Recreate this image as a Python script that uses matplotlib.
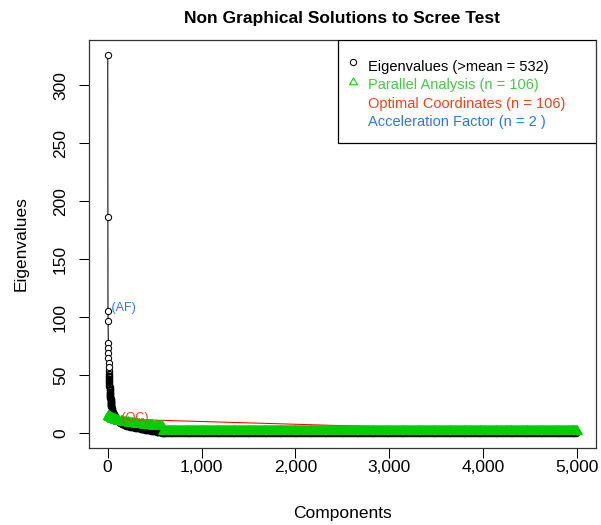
import matplotlib
matplotlib.use("Agg")
import matplotlib.pyplot as plt
import numpy as np
from matplotlib.patches import Rectangle
from matplotlib.ticker import FuncFormatter

plt.rcParams['font.family'] = ['Liberation Sans', 'DejaVu Sans']

# eigenvalues (component, value)
eig_head = [326, 186, 105, 96.5, 78, 73.5, 69, 64.5, 60.5, 57, 53, 51]
eig_mid_comp = list(range(13, 41)) + list(range(45, 101, 5)) + [106] + list(range(110, 601, 10))
eig_mid = [49.5, 48, 46.5, 45, 43.5, 42, 40.5, 39.2, 38, 36.8, 35.6, 34.5, 33.5, 32.5,
           31.6, 30.7, 29.9, 29.1, 28.4, 27.7, 27.0, 26.4, 25.8, 25.2, 24.6, 24.1, 23.6, 23.1,
           21.2, 19.6, 18.2, 17.0, 15.9, 15.0, 14.2, 13.4, 12.7, 12.1, 11.5, 11.0,
           10.6,
           10.3, 9.6, 8.9, 8.4, 7.9, 7.5, 7.1, 6.8, 6.5, 6.25, 6.0, 5.8, 5.6, 5.4, 5.2,
           5.0, 4.85, 4.7, 4.55, 4.4, 4.25, 4.1, 3.95, 3.8, 3.65, 3.5, 3.35, 3.2, 3.05,
           2.9, 2.75, 2.6, 2.45, 2.3, 2.15, 2.0, 1.85, 1.7, 1.55, 1.45, 1.3, 1.18, 1.05,
           0.9, 0.75, 0.6, 0.45, 0.3, 0.15, 0.05]
n_components = 5000
eig_tail_value = 0.0

# parallel analysis
pa_comp = [1, 5, 10, 15, 20, 25, 30, 35, 42, 50, 56, 62, 68, 75, 82, 90, 98, 106, 115,
           125, 137, 150, 162, 175, 187, 200, 212, 225, 237, 250, 262, 275, 287, 300,
           312, 325, 337, 350, 362, 375, 387, 400, 412, 425, 437, 450, 462, 475, 487,
           500, 512, 525, 537, 550, 562, 575]
pa_vals = [15.0, 14.6, 14.2, 13.9, 13.6, 13.35, 13.1, 12.9, 12.6, 12.35, 12.15, 11.95,
           11.8, 11.6, 11.35, 11.1, 10.85, 10.6, 10.45, 10.3, 10.1, 9.95, 9.8, 9.6, 9.45,
           9.25, 9.1, 8.95, 8.8, 8.65, 8.5, 8.35, 8.2, 8.05, 7.9, 7.8, 7.65, 7.55, 7.4,
           7.3, 7.15, 7.05, 6.95, 6.85, 6.7, 6.6, 6.5, 6.4, 6.3, 6.2, 6.1, 6.0, 5.9,
           5.75, 5.65, 5.55]
pa_tail_value = 1.6

# optimal coordinates line ends
oc_x = [1, 5000]
oc_y = [12.2, 0.3]

n_kaiser, n_pa, n_oc, n_af = 532, 106, 106, 2

green = '#00CD00'
red_txt = '#F2401E'
blue_txt = '#2B78E4'

eig_comp = list(range(1, len(eig_head) + 1)) + eig_mid_comp
eig_vals = eig_head + eig_mid
tail_comp = np.arange(610, n_components + 1, 20)
tail_vals = np.full(len(tail_comp), eig_tail_value)
all_comp = np.concatenate([eig_comp, tail_comp])
all_vals = np.concatenate([eig_vals, tail_vals])

pa_tail_comp = np.arange(590, n_components + 1, 10)
pa_all_comp = np.concatenate([pa_comp, pa_tail_comp])
pa_all_vals = np.concatenate([pa_vals, np.full(len(pa_tail_comp), pa_tail_value)])

tri = [(0, 1), (-0.866, -0.5), (0.866, -0.5), (0, 1)]

fig = plt.figure(figsize=(6.01, 5.25), dpi=100)
ax = fig.add_axes([89 / 601, 1 - 448 / 525, 507 / 601, 408 / 525])

ax.plot(all_comp, all_vals, color='black', lw=0.75, zorder=2)
ax.plot(all_comp[10:], all_vals[10:], ls='none', marker='o', ms=4.5, mfc='none',
        mec='black', mew=0.9, zorder=3)
ax.plot(all_comp[:10], all_vals[:10], ls='none', marker='o', ms=4.5, mfc='white',
        mec='black', mew=0.75, zorder=3)

ax.plot(oc_x, oc_y, color='red', lw=0.75, zorder=4)

ax.plot(pa_all_comp, pa_all_vals, color=green, lw=0.75, marker=tri, ms=9.6,
        mfc=green, mew=0, zorder=5)

# labels for OC and AF
ax.text(n_oc, eig_vals[eig_comp.index(n_oc)], ' (OC)', color=red_txt,
        fontsize=9, ha='left', va='baseline', zorder=6)
ax.text(n_af + 1, eig_vals[n_af], ' (AF)', color=blue_txt, fontsize=9,
        ha='left', va='baseline', zorder=6)

lo, hi = 1, n_components
ax.set_xlim(lo - 0.04 * (hi - lo), hi + 0.04 * (hi - lo))
ylo, yhi = 0, max(eig_head)
ax.set_ylim(ylo - 0.04 * (yhi - ylo), yhi + 0.04 * (yhi - ylo))

ax.set_xticks(range(0, 5001, 1000))
ax.xaxis.set_major_formatter(FuncFormatter(lambda v, p: f'{int(v):,}'))
ax.set_yticks(range(0, 301, 50))
ax.tick_params(axis='both', direction='out', length=7.2, width=0.75, labelsize=12.5,
               top=False, right=False)
ax.tick_params(axis='x', pad=1.5)
ax.tick_params(axis='y', pad=8)
for lab in ax.get_yticklabels():
    lab.set_rotation(90)
    lab.set_va('center')
for s in ax.spines.values():
    s.set_linewidth(0.9)
    s.set_color('#333333')

ax.set_xlabel('Components', fontsize=12.5)
ax.set_ylabel('Eigenvalues', fontsize=12.5)
ax.xaxis.set_label_coords(0.5, -0.143)
ax.yaxis.set_label_coords(-0.119, 0.5)
ax.set_title('Non Graphical Solutions to Scree Test', fontsize=12.5, fontweight='bold', pad=12.5)

# legend box drawn like R's legend("topright")
ax.add_patch(Rectangle((0.491, 0.7475), 0.509, 0.2525, transform=ax.transAxes,
                       facecolor='white', edgecolor='black', lw=0.9, zorder=10))
rows_y = [0.9345, 0.889, 0.8435, 0.798]
texts = [f'Eigenvalues (>mean = {n_kaiser})', f'Parallel Analysis (n = {n_pa})',
         f'Optimal Coordinates (n = {n_oc})', f'Acceleration Factor (n = {n_af} )']
colors = ['black', '#45C845', red_txt, blue_txt]
for yy, t, c in zip(rows_y, texts, colors):
    ax.text(0.5503, yy, t, color=c, fontsize=10.5, ha='left', va='center',
            transform=ax.transAxes, zorder=11)
ax.plot([0.5207], [rows_y[0] + 0.012], transform=ax.transAxes, marker='o', ms=4.5,
        mfc='none', mec='black', mew=0.75, ls='none', zorder=11, clip_on=False)
ax.plot([0.5207], [rows_y[1] + 0.008], transform=ax.transAxes, marker=tri, ms=6.6,
        mfc='none', mec=green, mew=0.75, ls='none', zorder=11, clip_on=False)

fig.savefig('out.png', dpi=100)
